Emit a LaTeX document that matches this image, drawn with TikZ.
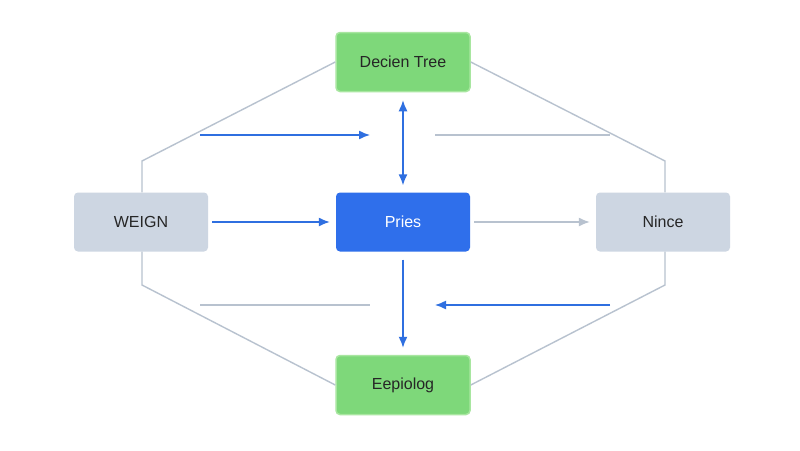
\documentclass[tikz,border=0pt]{standalone}
\usepackage{fontspec}
\setmainfont{Liberation Sans}
\usetikzlibrary{arrows.meta}
\definecolor{gbox}{HTML}{7ED87A}
\definecolor{gedge}{HTML}{A8E6A0}
\definecolor{bbox}{HTML}{2F6FEB}
\definecolor{graybox}{HTML}{CDD6E2}
\definecolor{gline}{HTML}{B8C2CF}
\definecolor{barrow}{HTML}{2F6FE0}
\begin{document}
\begin{tikzpicture}[x=1pt,y=-1pt,
 box/.style={rounded corners=4pt,minimum width=134pt,minimum height=59pt,font=\fontsize{16}{19}\selectfont,text=black!85},
 grn/.style={box,fill=gbox,draw=gedge,line width=1.5pt},
 gry/.style={box,fill=graybox},
 blu/.style={box,fill=bbox,text=white},
 gl/.style={draw=gline,line width=1.4pt},
 tip/.style={Latex[length=11pt,width=9pt]},
 ba/.style={draw=barrow,line width=1.4pt,-{Latex[length=11pt,width=9pt]}},
 ga/.style={draw=gline,line width=1.4pt,-{Latex[length=11pt,width=9pt]}}]
\useasboundingbox (0,0) rectangle (800,450);
\fill[white] (0,0) rectangle (800,450);
\node[grn] (top) at (403,62) {Decien Tree};
\node[blu] (c) at (403,222) {Pries};
\node[gry] (l) at (141,222) {WEIGN};
\node[gry] (r) at (663,222) {Nince};
\node[grn] (b) at (403,385) {Eepiolog};
\coordinate (lt) at (142,161); \coordinate (rt) at (665,161);
\coordinate (lb) at (142,285); \coordinate (rb) at (665,285);
\draw[gl] (top.west) -- (lt) -- (l.north -| lt);
\draw[gl] (top.east) -- (rt) -- (r.north -| rt);
\draw[gl] (l.south -| lb) -- (lb) -- (b.west);
\draw[gl] (r.south -| rb) -- (rb) -- (b.east);
\coordinate (a1s) at (200,135); \coordinate (a1e) at (370,135);
\coordinate (g1s) at (435,135); \coordinate (g1e) at (610,135);
\coordinate (g2s) at (200,305); \coordinate (g2e) at (370,305);
\coordinate (a2s) at (610,305); \coordinate (a2e) at (435,305);
\draw[ba] (a1s) -- (a1e);
\draw[gl] (g1s) -- (g1e);
\draw[gl] (g2s) -- (g2e);
\draw[ba] (a2s) -- (a2e);
\draw[ba] ([xshift=4pt]l.east) -- ([xshift=-6pt]c.west);
\draw[ga] ([xshift=4pt]c.east) -- ([xshift=-6pt]r.west);
\draw[ba,{Latex[length=11pt,width=9pt]}-{Latex[length=11pt,width=9pt]}] ([yshift=-8pt]top.south) -- ([yshift=7pt]c.north);
\draw[ba] ([yshift=-8pt]c.south) -- ([yshift=7pt]b.north);
\end{tikzpicture}
\end{document}
